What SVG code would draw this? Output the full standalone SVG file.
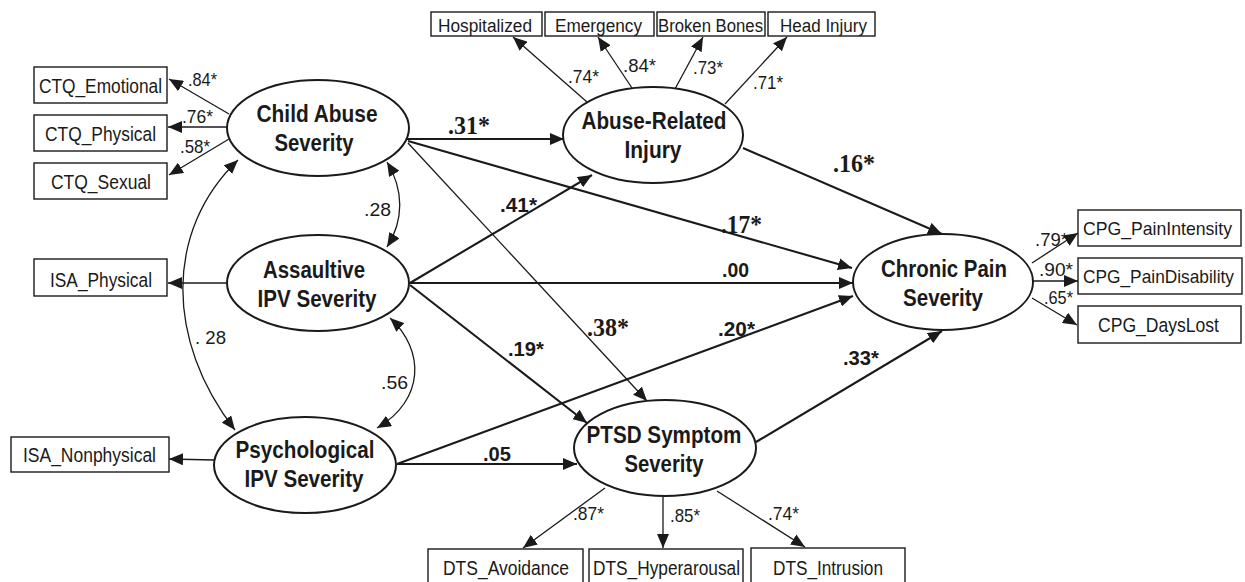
<svg xmlns="http://www.w3.org/2000/svg" width="1245" height="582" viewBox="0 0 1245 582">
<style>
.box{fill:#fff;stroke:#1a1a1a;stroke-width:1.4}
.ell{fill:#fff;stroke:#1a1a1a;stroke-width:2}
.bt{font-family:"Liberation Sans",Arial,sans-serif;font-size:20.5px;fill:#1a1a1a}
.bs{font-family:"Liberation Sans",Arial,sans-serif;font-size:18.5px;fill:#1a1a1a}
.tt{font-family:"Liberation Sans",Arial,sans-serif;font-size:18px;fill:#1a1a1a}
.nt{font-family:"Liberation Sans",Arial,sans-serif;font-size:23.5px;font-weight:bold;fill:#1a1a1a;text-anchor:middle}
.ld{font-family:"Liberation Sans",Arial,sans-serif;font-size:19px;fill:#1a1a1a}
.cs{font-family:"Liberation Sans",Arial,sans-serif;font-size:21px;font-weight:bold;fill:#1a1a1a}
.cr{font-family:"Liberation Serif","Times New Roman",serif;font-size:25px;font-weight:bold;fill:#1a1a1a}
.thin{fill:none;stroke:#1a1a1a;stroke-width:1.3;marker-end:url(#ah)}
.bold{fill:none;stroke:#1a1a1a;stroke-width:2.1;marker-end:url(#ah)}
.cov{fill:none;stroke:#1a1a1a;stroke-width:1.3;marker-start:url(#ah2);marker-end:url(#ah)}
</style>
<defs>
<marker id="ah" markerUnits="userSpaceOnUse" markerWidth="15" markerHeight="12" refX="14" refY="6" orient="auto"><path d="M0,0 L14,6 L0,12 z" fill="#1a1a1a"/></marker>
<marker id="ah2" markerUnits="userSpaceOnUse" markerWidth="15" markerHeight="12" refX="14" refY="6" orient="auto-start-reverse"><path d="M0,0 L14,6 L0,12 z" fill="#1a1a1a"/></marker>
</defs>
<rect width="1245" height="582" fill="#fff"/>

<g id="connectors">
<line class="thin" x1="229" y1="114" x2="169" y2="79"/>
<line class="thin" x1="227" y1="127" x2="168" y2="127"/>
<line class="thin" x1="229" y1="139" x2="169" y2="175"/>
<line class="thin" x1="227" y1="283" x2="168" y2="283"/>
<line class="thin" x1="214" y1="460" x2="169" y2="459"/>
<line class="thin" x1="587" y1="102" x2="513" y2="37"/>
<line class="thin" x1="632" y1="88" x2="598" y2="37"/>
<line class="thin" x1="675" y1="89" x2="703" y2="37"/>
<line class="thin" x1="725" y1="104" x2="787" y2="37"/>
<line class="thin" x1="1032" y1="263" x2="1078" y2="233"/>
<line class="thin" x1="1033" y1="281" x2="1078" y2="281"/>
<line class="thin" x1="1032" y1="298" x2="1077" y2="325"/>
<line class="thin" x1="605" y1="488" x2="523" y2="548"/>
<line class="thin" x1="663" y1="497" x2="663" y2="548"/>
<line class="thin" x1="717" y1="491" x2="805" y2="547"/>
<path class="cov" d="M387,162 C404,190 404,220 387,247"/>
<path class="cov" d="M238,160 C165,230 165,340 235,430"/>
<path class="cov" d="M390,318 C425,350 425,400 377,428"/>
<line class="bold" x1="407" y1="139" x2="564" y2="139"/>
<line class="bold" x1="408" y1="141" x2="852" y2="268"/>
<line class="thin" x1="408" y1="143" x2="647" y2="401"/>
<line class="bold" x1="743" y1="148" x2="942" y2="234"/>
<line class="bold" x1="410" y1="283" x2="592" y2="175"/>
<line class="bold" x1="410" y1="283" x2="853" y2="283"/>
<line class="bold" x1="410" y1="285" x2="587" y2="423"/>
<line class="bold" x1="397" y1="464" x2="853" y2="296"/>
<line class="bold" x1="397" y1="464" x2="577" y2="464"/>
<line class="bold" x1="756" y1="442" x2="942" y2="331"/>
</g>

<g id="labels">
<text class="ld" x="188" y="86" textLength="29" lengthAdjust="spacingAndGlyphs">.84*</text>
<text class="ld" x="182" y="123" textLength="31" lengthAdjust="spacingAndGlyphs">.76*</text>
<text class="ld" x="180" y="153" textLength="30" lengthAdjust="spacingAndGlyphs">.58*</text>
<text class="ld" x="568" y="83" textLength="31" lengthAdjust="spacingAndGlyphs">.74*</text>
<text class="ld" x="623" y="72" textLength="33" lengthAdjust="spacingAndGlyphs">.84*</text>
<text class="ld" x="693" y="74" textLength="30" lengthAdjust="spacingAndGlyphs">.73*</text>
<text class="ld" x="753" y="89" textLength="30" lengthAdjust="spacingAndGlyphs">.71*</text>
<text class="ld" x="1035" y="246" textLength="33" lengthAdjust="spacingAndGlyphs">.79*</text>
<text class="ld" x="1039" y="276" textLength="34" lengthAdjust="spacingAndGlyphs">.90*</text>
<text class="ld" x="1044" y="304" textLength="29" lengthAdjust="spacingAndGlyphs">.65*</text>
<text class="ld" x="573" y="520" textLength="31" lengthAdjust="spacingAndGlyphs">.87*</text>
<text class="ld" x="670" y="522" textLength="30" lengthAdjust="spacingAndGlyphs">.85*</text>
<text class="ld" x="768" y="520" textLength="31" lengthAdjust="spacingAndGlyphs">.74*</text>
<text class="ld" x="364" y="216" textLength="27" lengthAdjust="spacingAndGlyphs">.28</text>
<text class="ld" x="195" y="344" textLength="31" lengthAdjust="spacingAndGlyphs">. 28</text>
<text class="ld" x="381" y="389" textLength="27" lengthAdjust="spacingAndGlyphs">.56</text>
<text class="cr" x="448" y="134" textLength="42" lengthAdjust="spacingAndGlyphs">.31*</text>
<text class="cr" x="833" y="172" textLength="42" lengthAdjust="spacingAndGlyphs">.16*</text>
<text class="cr" x="721" y="233" textLength="41" lengthAdjust="spacingAndGlyphs">.17*</text>
<text class="cr" x="587" y="336" textLength="42" lengthAdjust="spacingAndGlyphs">.38*</text>
<text class="cs" x="500" y="212" textLength="37" lengthAdjust="spacingAndGlyphs">.41*</text>
<text class="cs" x="722" y="277" textLength="27" lengthAdjust="spacingAndGlyphs">.00</text>
<text class="cs" x="508" y="356" textLength="36" lengthAdjust="spacingAndGlyphs">.19*</text>
<text class="cs" x="718" y="336" textLength="37" lengthAdjust="spacingAndGlyphs">.20*</text>
<text class="cs" x="843" y="365" textLength="36" lengthAdjust="spacingAndGlyphs">.33*</text>
<text class="cs" x="483" y="461" textLength="28" lengthAdjust="spacingAndGlyphs">.05</text>
</g>

<g id="node-child-abuse">
<ellipse class="ell" cx="318" cy="128" rx="91" ry="48"/>
<text class="nt" x="317" y="122" textLength="121" lengthAdjust="spacingAndGlyphs">Child Abuse</text>
<text class="nt" x="314" y="151" textLength="79" lengthAdjust="spacingAndGlyphs">Severity</text>
</g>
<g id="node-abuse-injury">
<ellipse class="ell" cx="653" cy="135" rx="90" ry="48"/>
<text class="nt" x="654" y="129" textLength="145" lengthAdjust="spacingAndGlyphs">Abuse-Related</text>
<text class="nt" x="653" y="158" textLength="57" lengthAdjust="spacingAndGlyphs">Injury</text>
</g>
<g id="node-assaultive">
<ellipse class="ell" cx="318" cy="283" rx="91" ry="48"/>
<text class="nt" x="314" y="278" textLength="102" lengthAdjust="spacingAndGlyphs">Assaultive</text>
<text class="nt" x="317" y="307" textLength="119" lengthAdjust="spacingAndGlyphs">IPV Severity</text>
</g>
<g id="node-psychological">
<ellipse class="ell" cx="305" cy="465" rx="91" ry="48"/>
<text class="nt" x="305" y="458" textLength="139" lengthAdjust="spacingAndGlyphs">Psychological</text>
<text class="nt" x="304" y="487" textLength="119" lengthAdjust="spacingAndGlyphs">IPV Severity</text>
</g>
<g id="node-ptsd">
<ellipse class="ell" cx="665" cy="448" rx="91" ry="48"/>
<text class="nt" x="664" y="443" textLength="155" lengthAdjust="spacingAndGlyphs">PTSD Symptom</text>
<text class="nt" x="664" y="472" textLength="79" lengthAdjust="spacingAndGlyphs">Severity</text>
</g>
<g id="node-chronic-pain">
<ellipse class="ell" cx="943" cy="282" rx="90" ry="48"/>
<text class="nt" x="944" y="277" textLength="126" lengthAdjust="spacingAndGlyphs">Chronic Pain</text>
<text class="nt" x="943" y="306" textLength="80" lengthAdjust="spacingAndGlyphs">Severity</text>
</g>

<g id="node-ctq-emotional"><rect class="box" x="34" y="67" width="133" height="36"/><text class="bt" x="39" y="93" textLength="123" lengthAdjust="spacingAndGlyphs">CTQ_Emotional</text></g>
<g id="node-ctq-physical"><rect class="box" x="34" y="115" width="133" height="36"/><text class="bt" x="45" y="141" textLength="111" lengthAdjust="spacingAndGlyphs">CTQ_Physical</text></g>
<g id="node-ctq-sexual"><rect class="box" x="34" y="163" width="133" height="36"/><text class="bt" x="51" y="189" textLength="100" lengthAdjust="spacingAndGlyphs">CTQ_Sexual</text></g>
<g id="node-isa-physical"><rect class="box" x="34" y="259" width="133" height="37"/><text class="bt" x="50" y="287" textLength="102" lengthAdjust="spacingAndGlyphs">ISA_Physical</text></g>
<g id="node-isa-nonphysical"><rect class="box" x="11" y="437" width="158" height="35"/><text class="bt" x="23" y="462" textLength="133" lengthAdjust="spacingAndGlyphs">ISA_Nonphysical</text></g>
<g id="node-hospitalized"><rect class="box" x="431" y="12" width="111" height="24"/><text class="tt" x="438" y="32" textLength="94" lengthAdjust="spacingAndGlyphs">Hospitalized</text></g>
<g id="node-emergency"><rect class="box" x="545" y="12" width="109" height="24"/><text class="tt" x="555" y="32" textLength="87" lengthAdjust="spacingAndGlyphs">Emergency</text></g>
<g id="node-broken-bones"><rect class="box" x="657" y="12" width="108" height="24"/><text class="tt" x="658" y="32" textLength="105" lengthAdjust="spacingAndGlyphs">Broken Bones</text></g>
<g id="node-head-injury"><rect class="box" x="768" y="12" width="107" height="24"/><text class="tt" x="780" y="32" textLength="87" lengthAdjust="spacingAndGlyphs">Head Injury</text></g>
<g id="node-cpg-intensity"><rect class="box" x="1078" y="210" width="163" height="36"/><text class="bs" x="1083" y="235" textLength="149" lengthAdjust="spacingAndGlyphs">CPG_PainIntensity</text></g>
<g id="node-cpg-disability"><rect class="box" x="1078" y="258" width="164" height="36"/><text class="bs" x="1083" y="283" textLength="151" lengthAdjust="spacingAndGlyphs">CPG_PainDisability</text></g>
<g id="node-cpg-dayslost"><rect class="box" x="1078" y="306" width="163" height="37"/><text class="bt" x="1098" y="332" textLength="121" lengthAdjust="spacingAndGlyphs">CPG_DaysLost</text></g>
<g id="node-dts-avoidance"><rect class="box" x="428" y="549" width="155" height="40"/><text class="bt" x="443" y="575" textLength="126" lengthAdjust="spacingAndGlyphs">DTS_Avoidance</text></g>
<g id="node-dts-hyperarousal"><rect class="box" x="589" y="549" width="154" height="40"/><text class="bt" x="593" y="575" textLength="147" lengthAdjust="spacingAndGlyphs">DTS_Hyperarousal</text></g>
<g id="node-dts-intrusion"><rect class="box" x="751" y="548" width="154" height="40"/><text class="bt" x="773" y="575" textLength="110" lengthAdjust="spacingAndGlyphs">DTS_Intrusion</text></g>
</svg>
